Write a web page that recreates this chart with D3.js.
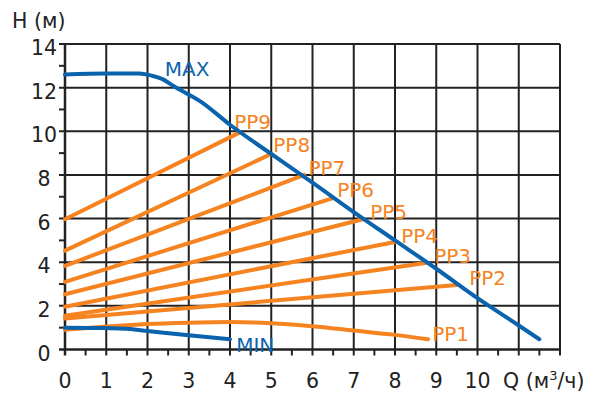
<!DOCTYPE html>
<meta charset="utf-8">
<script src="https://d3js.org/d3.v7.min.js"></script>
<style>
body { margin: 0; background: #fff; }
text { font-family: "DejaVu Sans", Verdana, sans-serif; }
</style>
<div id="chart"></div>
<script>
// Q (m3/h), H (m)
var maxCurve = [[0,12.6],[1,12.65],[1.8,12.65],[2.1,12.55],[2.35,12.4],[2.65,12.05],[3.3,11.35],[4,10.3],[5,8.96],[6,7.65],[7,6.3],[8,5.0],[9,3.7],[10,2.35],[11,1.1],[11.5,0.47]];
var minCurve = [[0,1.0],[1,0.98],[1.5,0.95],[2,0.85],[3,0.65],[4,0.47]];
var ppNames = ["PP1","PP2","PP3","PP4","PP5","PP6","PP7","PP8","PP9"];
var ppCurves = [
  [[0,0.9],[1,1.05],[2,1.17],[3,1.23],[4,1.26],[5,1.2],[6,1.07],[7,0.87],[8,0.67],[8.8,0.47]],
  [[0,1.42],[9.5,2.96]],
  [[0,1.55],[8.77,3.98]],
  [[0,1.96],[8.0,4.93]],
  [[0,2.53],[7.22,5.97]],
  [[0,3.1],[6.5,6.94]],
  [[0,3.83],[5.8,8.0]],
  [[0,4.53],[5.0,8.96]],
  [[0,5.97],[4.24,9.95]]
];
// label anchor points (data coords)
var ppLabelAt = [[8.9,0.4],[9.8,2.95],[8.95,3.95],[8.15,4.9],[7.4,6.0],[6.6,7.0],[5.9,8.0],[5.05,9.05],[4.1,10.1]];
var xLabels = [0,1,2,3,4,5,6,7,8,9,10];
var yLabels = [0,2,4,6,8,10,12,14];

var W = 601, H = 397;
var x = d3.scaleLinear().domain([0,12]).range([65,560]);
var y = d3.scaleLinear().domain([0,14]).range([349.5,44]);

var svg = d3.select("#chart").append("svg").attr("width", W).attr("height", H);

var gridColor = "#222";
// vertical grid
svg.selectAll(".vg").data(d3.range(1,13)).enter().append("line")
  .attr("x1", d => x(d)).attr("x2", d => x(d))
  .attr("y1", y(14)).attr("y2", y(0) + 6)
  .attr("stroke", gridColor).attr("stroke-width", 2);
// horizontal grid
svg.selectAll(".hg").data(d3.range(2,15,2)).enter().append("line")
  .attr("x1", x(0) - 6).attr("x2", x(12))
  .attr("y1", d => y(d)).attr("y2", d => y(d))
  .attr("stroke", gridColor).attr("stroke-width", 2);
// minor ticks
svg.selectAll(".xm").data(d3.range(0.5,12,1)).enter().append("line")
  .attr("x1", d => x(d)).attr("x2", d => x(d))
  .attr("y1", y(0)).attr("y2", y(0) + 6)
  .attr("stroke", gridColor).attr("stroke-width", 2);
svg.selectAll(".ym").data(d3.range(1,14,2)).enter().append("line")
  .attr("x1", x(0) - 6).attr("x2", x(0))
  .attr("y1", d => y(d)).attr("y2", d => y(d))
  .attr("stroke", gridColor).attr("stroke-width", 2);
// axes
svg.append("line").attr("x1", x(0)).attr("x2", x(0)).attr("y1", y(14)).attr("y2", y(0) + 6)
  .attr("stroke", gridColor).attr("stroke-width", 2.5);
svg.append("line").attr("x1", x(0) - 6).attr("x2", x(12) + 1).attr("y1", y(0)).attr("y2", y(0))
  .attr("stroke", gridColor).attr("stroke-width", 2.5);

// tick labels
svg.selectAll(".xl").data(xLabels).enter().append("text")
  .attr("x", d => x(d)).attr("y", 388)
  .attr("text-anchor", "middle").attr("font-size", 20.5).attr("fill", "#222")
  .text(d => d);
svg.selectAll(".yl").data(yLabels).enter().append("text")
  .attr("x", 44).attr("y", d => y(d) + 11)
  .attr("text-anchor", "middle").attr("font-size", 20.5).attr("fill", "#222")
  .text(d => d);

svg.append("text").attr("x", 12).attr("y", 28).attr("font-size", 20.5).attr("fill", "#222").text("H (м)");
var q = svg.append("text").attr("x", 503).attr("y", 388).attr("font-size", 20.5).attr("fill", "#222");
q.append("tspan").text("Q (м");
q.append("tspan").attr("font-size", 13).attr("dy", -8).text("3");
q.append("tspan").attr("dy", 8).text("/ч)");

var line = d3.line().x(d => x(d[0])).y(d => y(d[1])).curve(d3.curveMonotoneX);
var orange = "#f5831f", blue = "#0b63ad";

svg.selectAll(".pp").data(ppCurves).enter().append("path")
  .attr("d", line).attr("fill", "none")
  .attr("stroke", orange).attr("stroke-width", 4).attr("stroke-linecap", "round");

svg.selectAll(".ppl").data(ppNames).enter().append("text")
  .attr("x", (d, i) => x(ppLabelAt[i][0])).attr("y", (d, i) => y(ppLabelAt[i][1]))
  .attr("font-size", 20).attr("fill", orange).text(d => d);

svg.append("path").attr("d", line(maxCurve)).attr("fill", "none")
  .attr("stroke", blue).attr("stroke-width", 4).attr("stroke-linecap", "round");
svg.append("path").attr("d", line(minCurve)).attr("fill", "none")
  .attr("stroke", blue).attr("stroke-width", 4).attr("stroke-linecap", "round");

svg.append("text").attr("x", x(2.42)).attr("y", 76).attr("font-size", 20).attr("fill", blue).text("MAX");
svg.append("text").attr("x", x(4.15)).attr("y", 352).attr("font-size", 20).attr("fill", blue).text("MIN");
</script>
